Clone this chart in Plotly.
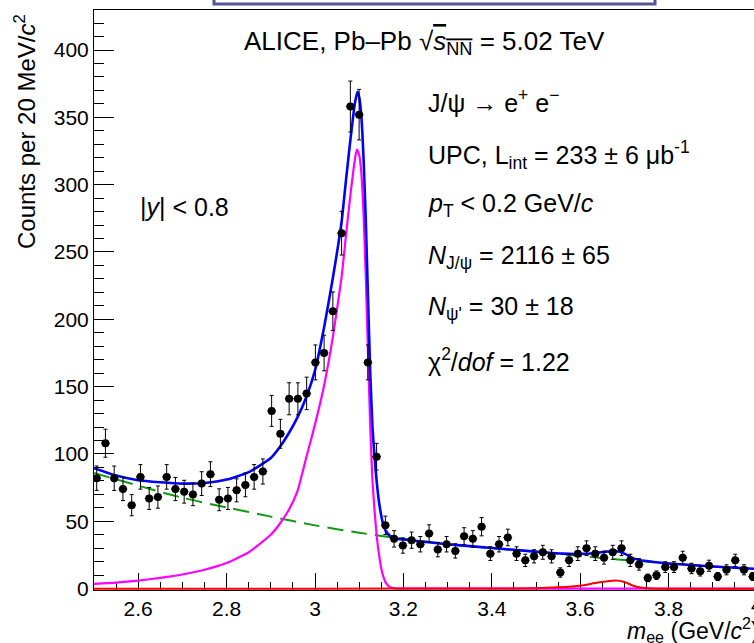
import numpy as np
import plotly.graph_objects as go

# ---------------- data ----------------
mass = [2.5061, 2.5259, 2.5457, 2.5655, 2.5853, 2.6051, 2.6248, 2.6446, 2.6644, 2.6842,
        2.7040, 2.7238, 2.7436, 2.7634, 2.7832, 2.8030, 2.8227, 2.8425, 2.8623, 2.8821,
        2.9019, 2.9217, 2.9415, 2.9613, 2.9811, 3.0009, 3.0206, 3.0404, 3.0602, 3.0800,
        3.0998, 3.1196, 3.1394, 3.1592, 3.1790, 3.1988, 3.2185, 3.2383, 3.2581, 3.2779,
        3.2977, 3.3175, 3.3373, 3.3571, 3.3769, 3.3967, 3.4164, 3.4362, 3.4560, 3.4758,
        3.4956, 3.5154, 3.5352, 3.5550, 3.5748, 3.5946, 3.6143, 3.6341, 3.6539, 3.6737,
        3.6935, 3.7133, 3.7331, 3.7529, 3.7727, 3.7925, 3.8122, 3.8320, 3.8518, 3.8716,
        3.8914, 3.9112, 3.9310, 3.9508, 3.9706, 3.9904]
counts = [82, 108, 82, 74, 62, 83, 67, 68, 83, 74,
          72, 70, 78, 85, 66, 67, 73, 77, 83, 87,
          132, 115, 141, 141, 145, 168, 175, 206, 264, 358,
          352, 168, 98, 47, 37, 32, 36, 33, 41, 29,
          33, 28, 39, 37, 46, 26, 33, 38, 26, 21,
          24, 27, 24, 12, 21, 26, 30, 26, 23, 27,
          30, 21, 18, 8, 10, 16, 16, 23, 15, 13,
          17, 9, 14, 21, 14, 9]
count_err = np.sqrt(np.array(counts, dtype=float))
half_bin = 0.0099

# total fit (blue)
total_x = [2.50, 2.55, 2.60, 2.65, 2.70, 2.75, 2.80, 2.85, 2.90, 2.92, 2.94, 2.96, 2.98,
           3.00, 3.02, 3.04, 3.06, 3.07, 3.08, 3.09, 3.096, 3.100, 3.105, 3.110, 3.115,
           3.120, 3.125, 3.130, 3.135, 3.140, 3.145, 3.150, 3.155, 3.160, 3.170, 3.180,
           3.20, 3.30, 3.40, 3.50, 3.56, 3.60, 3.63, 3.66, 3.68, 3.70, 3.72, 3.75, 3.80,
           3.90, 4.00]
total_y = [89.5, 84, 80.5, 79, 78, 78.5, 81, 86.5, 97, 105, 115, 127, 142,
           162, 193, 230, 272, 303, 333, 360, 369, 365, 350, 318, 272,
           215, 160, 120, 97, 78, 64, 54, 47, 43, 39, 37.5,
           36.5, 33, 30.2, 27.5, 26, 25.8, 26.3, 27.5, 28, 26, 22.5, 20.5, 18.7,
           16.5, 14.6]

# J/psi signal (magenta)
jpsi_x = [2.50, 2.55, 2.60, 2.65, 2.70, 2.75, 2.80, 2.85, 2.90, 2.92, 2.94, 2.96, 2.98,
          3.00, 3.02, 3.04, 3.06, 3.07, 3.08, 3.09, 3.0946, 3.100, 3.105, 3.110, 3.115,
          3.120, 3.125, 3.130, 3.135, 3.140, 3.145, 3.150, 3.155, 3.160, 3.170, 3.180,
          3.20, 3.60, 4.00]
jpsi_y = [3.5, 4.5, 6, 8, 10.5, 14, 19, 27, 40, 48, 58, 72, 97,
          122, 150, 186, 231, 262, 292, 318, 326, 322, 308, 277, 231,
          174, 120, 80, 57, 38, 25, 15, 8.5, 4.5, 1, 0.2,
          0, 0, 0]

# background (green dashed)
bkg_x = [2.5, 2.6, 2.7, 2.8, 2.9, 3.0, 3.1, 3.2, 3.3, 3.4, 3.5, 3.6, 3.66, 3.7, 3.8, 3.9, 4.0]
bkg_y = [86, 76.5, 67.5, 60.3, 53.5, 47, 41.5, 37, 33, 30, 27.3, 24.2, 22.4, 21.3, 18.7, 16.4, 14.5]

# psi(2S) signal (red)
psi2s_x = [2.5, 3.0, 3.4, 3.5, 3.55, 3.60, 3.64, 3.68, 3.70, 3.72, 3.74, 3.76, 3.78, 4.0]
psi2s_y = [0, 0, 0.1, 0.3, 1.0, 2.2, 4.5, 6.0, 5.0, 2.2, 0.6, 0.1, 0, 0]

x_tickvals = [2.6, 2.8, 3.0, 3.2, 3.4, 3.6, 3.8]
x_ticktext = ["2.6", "2.8", "3", "3.2", "3.4", "3.6", "3.8"]

# ---------------- geometry ----------------
W, H = 754, 643
ML, MT, MB, MR = 94, 10, 53, 0
PW, PH = W - ML - MR, H - MT - MB
PX_PER_GEV = 442.0
x_range = [2.5, 2.5 + PW / PX_PER_GEV]
y_range = [-1.0, 429.7]

FONT = "Liberation Sans, Arial, Helvetica, sans-serif"


def px(xp):
    return (xp - ML) / PW


def py(yp):
    return (MT + PH - yp) / PH


fig = go.Figure()

fig.add_trace(go.Scatter(x=bkg_x, y=bkg_y, mode="lines",
                         line=dict(color="#119a11", width=2, dash="16px,8px", shape="spline", smoothing=0.8),
                         hoverinfo="skip", showlegend=False))
fig.add_trace(go.Scatter(x=jpsi_x, y=jpsi_y, mode="lines",
                         line=dict(color="#ff00ff", width=2.2, shape="spline", smoothing=0.5),
                         hoverinfo="skip", showlegend=False))
fig.add_trace(go.Scatter(x=psi2s_x, y=psi2s_y, mode="lines",
                         line=dict(color="#ff0000", width=2, shape="spline", smoothing=0.5),
                         hoverinfo="skip", showlegend=False))
fig.add_trace(go.Scatter(x=total_x, y=total_y, mode="lines",
                         line=dict(color="#0000ff", width=2.6, shape="spline", smoothing=0.5),
                         hoverinfo="skip", showlegend=False))
fig.add_trace(go.Scatter(x=mass, y=counts, mode="markers",
                         marker=dict(color="black", size=8, symbol="circle"),
                         error_y=dict(type="data", array=count_err, thickness=1, width=2, color="black"),
                         error_x=dict(type="constant", value=half_bin, thickness=1, width=0, color="black"),
                         showlegend=False))

tickfont = dict(family=FONT, size=21, color="black")

fig.update_xaxes(range=x_range, showline=True, linecolor="black", linewidth=1, mirror=True,
                 ticks="inside", ticklen=17, tickwidth=1, tickcolor="black",
                 tickvals=x_tickvals, ticktext=x_ticktext, tickfont=tickfont,
                 minor=dict(ticks="inside", ticklen=8, tickwidth=1, tickcolor="black",
                            tick0=2.5, dtick=0.05, showgrid=False),
                 showgrid=False, zeroline=False, layer="below traces")
fig.update_yaxes(range=y_range, showline=True, linecolor="black", linewidth=1, mirror=False,
                 ticks="inside", ticklen=20, tickwidth=1, tickcolor="black",
                 tick0=0, dtick=50, tickfont=tickfont,
                 minor=dict(ticks="inside", ticklen=10, tickwidth=1, tickcolor="black",
                            tick0=0, dtick=10, showgrid=False),
                 showgrid=False, zeroline=False, layer="below traces")

ann = []


def text(xp, yp, s, size=21, anchor="left", angle=0):
    ann.append(dict(x=px(xp), y=py(yp), xref="paper", yref="paper", text=s, showarrow=False,
                    xanchor=anchor, yanchor="middle", textangle=angle,
                    font=dict(family=FONT, size=size, color="black")))


text(242, 42, "ALICE, Pb\u2013Pb \u221a<span style='text-decoration:overline'><i>s</i><sub>NN</sub></span> = 5.02 TeV", size=26)
text(426, 101, "J/\u03c8 \u2192 e<sup>+</sup> e<sup>\u2212</sup>", size=25)
text(426, 155, "UPC, L<sub>int</sub> = 233 \u00b1 6 \u03bcb<sup>-1</sup>", size=25)
text(426, 205, "<i>p</i><sub>T</sub> &lt; 0.2 GeV/<i>c</i>", size=25)
text(426, 257, "<i>N</i><sub>J/\u03c8</sub> = 2116 \u00b1 65", size=25)
text(426, 308, "<i>N</i><sub>\u03c8'</sub> = 30 \u00b1 18", size=25)
text(426, 360, "\u03c7<sup>2</sup>/<i>dof</i> = 1.22", size=25)
text(138, 207, "|<i>y</i>| &lt; 0.8", size=25)
text(25, 132, "Counts per 20 MeV/<i>c</i><sup>2</sup>", size=24, anchor="center", angle=-90)
text(625, 630, "<i>m</i><sub>ee</sub> (GeV/<i>c</i><sup>2</sup>)", size=23)
# tick label of 4.0, which lies just past the right edge of the picture
text(ML + (4.0 - 2.5) * PX_PER_GEV, 604, "4", size=21, anchor="center")

fig.update_layout(
    width=W, height=H, margin=dict(l=ML, r=MR, t=MT, b=MB, pad=0),
    paper_bgcolor="white", plot_bgcolor="white",
    annotations=ann,
    shapes=[dict(type="rect", xref="paper", yref="paper",
                 x0=px(214), x1=px(655), y0=py(4), y1=py(-20),
                 line=dict(color="#55559a", width=3), fillcolor="white", layer="above")],
)

fig.write_html("out.html")
